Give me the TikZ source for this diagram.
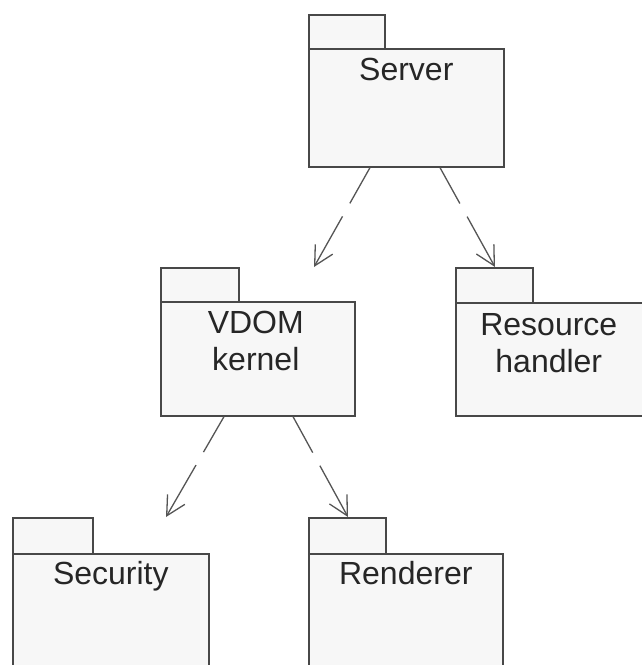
\documentclass[tikz,border=0pt]{standalone}
\usepackage{fontspec}
\setmainfont{Liberation Sans}
\usetikzlibrary{arrows.meta,calc}
\definecolor{pkgline}{HTML}{484848}
\definecolor{pkgfill}{HTML}{F7F7F7}
\definecolor{arrline}{HTML}{555555}
\begin{document}
\begin{tikzpicture}[x=1pt,y=-1pt,
  pkgshape/.style={draw=pkgline,fill=pkgfill,line width=1.6pt,inner sep=0pt,anchor=north west},
  pkgtext/.style={inner sep=0pt,anchor=north,align=center,text=black!85,font=\fontsize{32}{37}\selectfont},
  dep/.style={draw=arrline,line width=1.3pt,dash pattern=on 41pt off 15pt on 300pt,
    -{Straight Barb[length=19pt,width=20pt,line width=1.3pt]}}]
\useasboundingbox (0,0) rectangle (642,665);
\fill[white] (0,0) rectangle (642,665);
\begin{scope}
\clip (0,0) rectangle (642,665);
% Server
\node[pkgshape,minimum width=76pt,minimum height=34pt] (srvt) at (308,14) {};
\node[pkgshape,minimum width=195pt,minimum height=118pt] (srvb) at (308,48) {};
\node[pkgtext] (srvl) at ([yshift=-10pt]srvb.north) {Server};
% VDOM kernel
\node[pkgshape,minimum width=78pt,minimum height=34pt] (vdomt) at (160,267) {};
\node[pkgshape,minimum width=194pt,minimum height=114pt] (vdomb) at (160,301) {};
\node[pkgtext] (vdoml) at ([yshift=-10pt,xshift=-2pt]vdomb.north) {VDOM\\kernel};
% Resource handler
\node[pkgshape,minimum width=77pt,minimum height=35pt] (rest) at (455,267) {};
\node[pkgshape,minimum width=194pt,minimum height=113pt] (resb) at (455,302) {};
\node[pkgtext] (resl) at ([yshift=-11pt,xshift=-4pt]resb.north) {Resource\\handler};
% Security
\node[pkgshape,minimum width=80pt,minimum height=36pt] (sect) at (12,517) {};
\node[pkgshape,minimum width=196pt,minimum height=150pt] (secb) at (12,553) {};
\node[pkgtext] (secl) at ([yshift=-8pt]secb.north) {Security};
% Renderer
\node[pkgshape,minimum width=77pt,minimum height=36pt] (rent) at (308,517) {};
\node[pkgshape,minimum width=194pt,minimum height=150pt] (renb) at (308,553) {};
\node[pkgtext] (renl) at ([yshift=-8pt]renb.north) {Renderer};
% dependencies
\draw[dep] ($(srvb.south west)+(62,0)$) -- ($(vdomt.north west)+(154,0)$);
\draw[dep] ($(srvb.south west)+(132,0)$) -- ($(rest.north west)+(40,0)$);
\draw[dep] ($(vdomb.south west)+(64,0)$) -- ($(sect.north west)+(154,0)$);
\draw[dep] ($(vdomb.south west)+(133,0)$) -- ($(rent.north west)+(40,0)$);
\end{scope}
\end{tikzpicture}
\end{document}
